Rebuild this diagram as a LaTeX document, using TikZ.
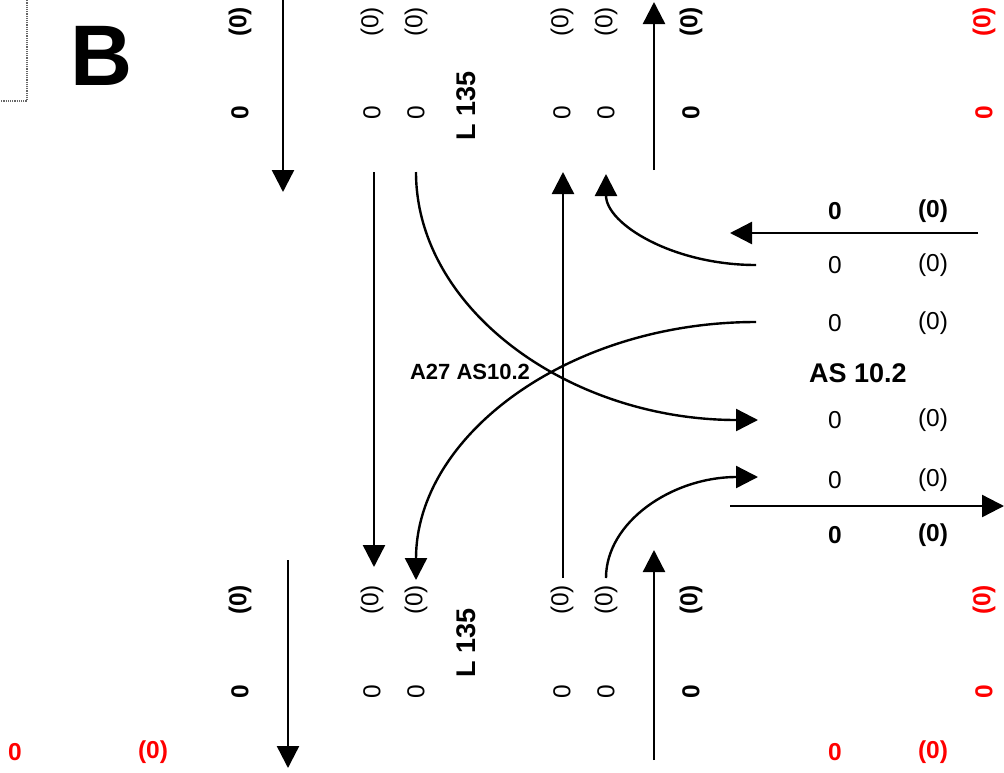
\documentclass[tikz,border=0pt]{standalone}
\usepackage{fontspec}
\setmainfont{Liberation Sans}
\usetikzlibrary{arrows.meta}
\definecolor{rd}{RGB}{255,0,0}
\tikzset{
  num/.style={inner sep=0pt, font=\fontsize{24.5}{27}\selectfont},
  bnum/.style={inner sep=0pt, font=\fontsize{24.5}{27}\selectfont\bfseries},
  rnum/.style={bnum, text=rd},
  vnum/.style={num, rotate=90},
  vbnum/.style={bnum, rotate=90},
  vrnum/.style={rnum, rotate=90},
  flow/.style={line width=2.4pt, -{Triangle[length=22pt,width=22pt]}},
  lbl/.style={inner sep=0pt, font=\fontsize{27}{30}\selectfont\bfseries},
}
\begin{document}
\begin{tikzpicture}[x=1pt,y=-1pt]
\useasboundingbox (0,0) rectangle (1004,772);
\begin{scope}
\clip (0,0) rectangle (1004,772);
\draw[black!60, densely dotted, line width=1.2pt] (-5,-5) rectangle (27,101);
\end{scope}
\node[inner sep=0pt, font=\fontsize{86}{90}\selectfont\bfseries] (B) at (102,56) {B};

% top row
\node[vbnum] (t1a) at (240,22) {(0)};
\node[vbnum] (t1b) at (240,113) {0};
\node[vnum] (t2a) at (372,22) {(0)};
\node[vnum] (t2b) at (372,113) {0};
\node[vnum] (t3a) at (416,22) {(0)};
\node[vnum] (t3b) at (416,113) {0};
\node[lbl, rotate=90] (tL) at (466,106) {L 135};
\node[vnum] (t4a) at (562,22) {(0)};
\node[vnum] (t4b) at (562,113) {0};
\node[vnum] (t5a) at (606,22) {(0)};
\node[vnum] (t5b) at (606,113) {0};
\node[vbnum] (t6a) at (691,22) {(0)};
\node[vbnum] (t6b) at (691,113) {0};
\node[vrnum] (t7a) at (984,22) {(0)};
\node[vrnum] (t7b) at (984,113) {0};

% bottom row
\node[vbnum] (b1a) at (240,600) {(0)};
\node[vbnum] (b1b) at (240,692) {0};
\node[vnum] (b2a) at (372,600) {(0)};
\node[vnum] (b2b) at (372,692) {0};
\node[vnum] (b3a) at (416,600) {(0)};
\node[vnum] (b3b) at (416,692) {0};
\node[lbl, rotate=90] (bL) at (466,643) {L 135};
\node[vnum] (b4a) at (562,600) {(0)};
\node[vnum] (b4b) at (562,692) {0};
\node[vnum] (b5a) at (606,600) {(0)};
\node[vnum] (b5b) at (606,692) {0};
\node[vbnum] (b6a) at (691,600) {(0)};
\node[vbnum] (b6b) at (691,692) {0};
\node[vrnum] (b7a) at (984,600) {(0)};
\node[vrnum] (b7b) at (984,692) {0};

% bottom red
\node[rnum] (r1) at (15,752) {0};
\node[rnum] (r2) at (153,752) {(0)};
\node[rnum] (r3) at (835,752) {0};
\node[rnum] (r4) at (933,752) {(0)};

% right table
\node[bnum] (s1a) at (835,211) {0};
\node[bnum] (s1b) at (933,211) {(0)};
\node[num] (s2a) at (835,265) {0};
\node[num] (s2b) at (933,265) {(0)};
\node[num] (s3a) at (835,323) {0};
\node[num] (s3b) at (933,323) {(0)};
\node[lbl] (AS) at (858,373) {AS 10.2};
\node[num] (s4a) at (835,420) {0};
\node[num] (s4b) at (933,420) {(0)};
\node[num] (s5a) at (835,480) {0};
\node[num] (s5b) at (933,480) {(0)};
\node[bnum] (s6a) at (835,535) {0};
\node[bnum] (s6b) at (933,535) {(0)};

\node[inner sep=0pt, font=\fontsize{22}{24}\selectfont\bfseries] (A27) at (470,372) {A27 AS10.2};

% coordinates
\coordinate (p1s) at (283,0);   \coordinate (p1e) at (283,192);
\coordinate (p2s) at (288,560); \coordinate (p2e) at (288,768);
\coordinate (p3s) at (654,170); \coordinate (p3e) at (654,2);
\coordinate (p4s) at (654,760); \coordinate (p4e) at (654,550);
\coordinate (p5s) at (374,172); \coordinate (p5e) at (374,567);
\coordinate (p6s) at (563,578); \coordinate (p6e) at (563,172);
\coordinate (c1s) at (416,172); \coordinate (c1e) at (758,420);
\coordinate (c2s) at (756,322); \coordinate (c2e) at (416,580);
\coordinate (c3s) at (756,265); \coordinate (c3e) at (606,174);
\coordinate (c4s) at (606,578); \coordinate (c4e) at (758,477);
\coordinate (h1s) at (978,233); \coordinate (h1e) at (730,233);
\coordinate (h2s) at (730,506); \coordinate (h2e) at (1004,506);

\draw[flow] (p1s) -- (p1e);
\draw[flow] (p2s) -- (p2e);
\draw[flow] (p3s) -- (p3e);
\draw[flow] (p4s) -- (p4e);
\draw[flow] (p5s) -- (p5e);
\draw[flow] (p6s) -- (p6e);
\draw[flow] (c1s) .. controls (416,309) and (569,420) .. (c1e);
\draw[flow] (c2s) .. controls (568,322) and (416,436) .. (c2e);
\draw[flow] (c3s) .. controls (673,265) and (606,224) .. (c3e);
\draw[flow] (c4s) .. controls (606,522) and (672,477) .. (c4e);
\draw[flow] (h1s) -- (h1e);
\draw[flow] (h2s) -- (h2e);
\end{tikzpicture}
\end{document}
